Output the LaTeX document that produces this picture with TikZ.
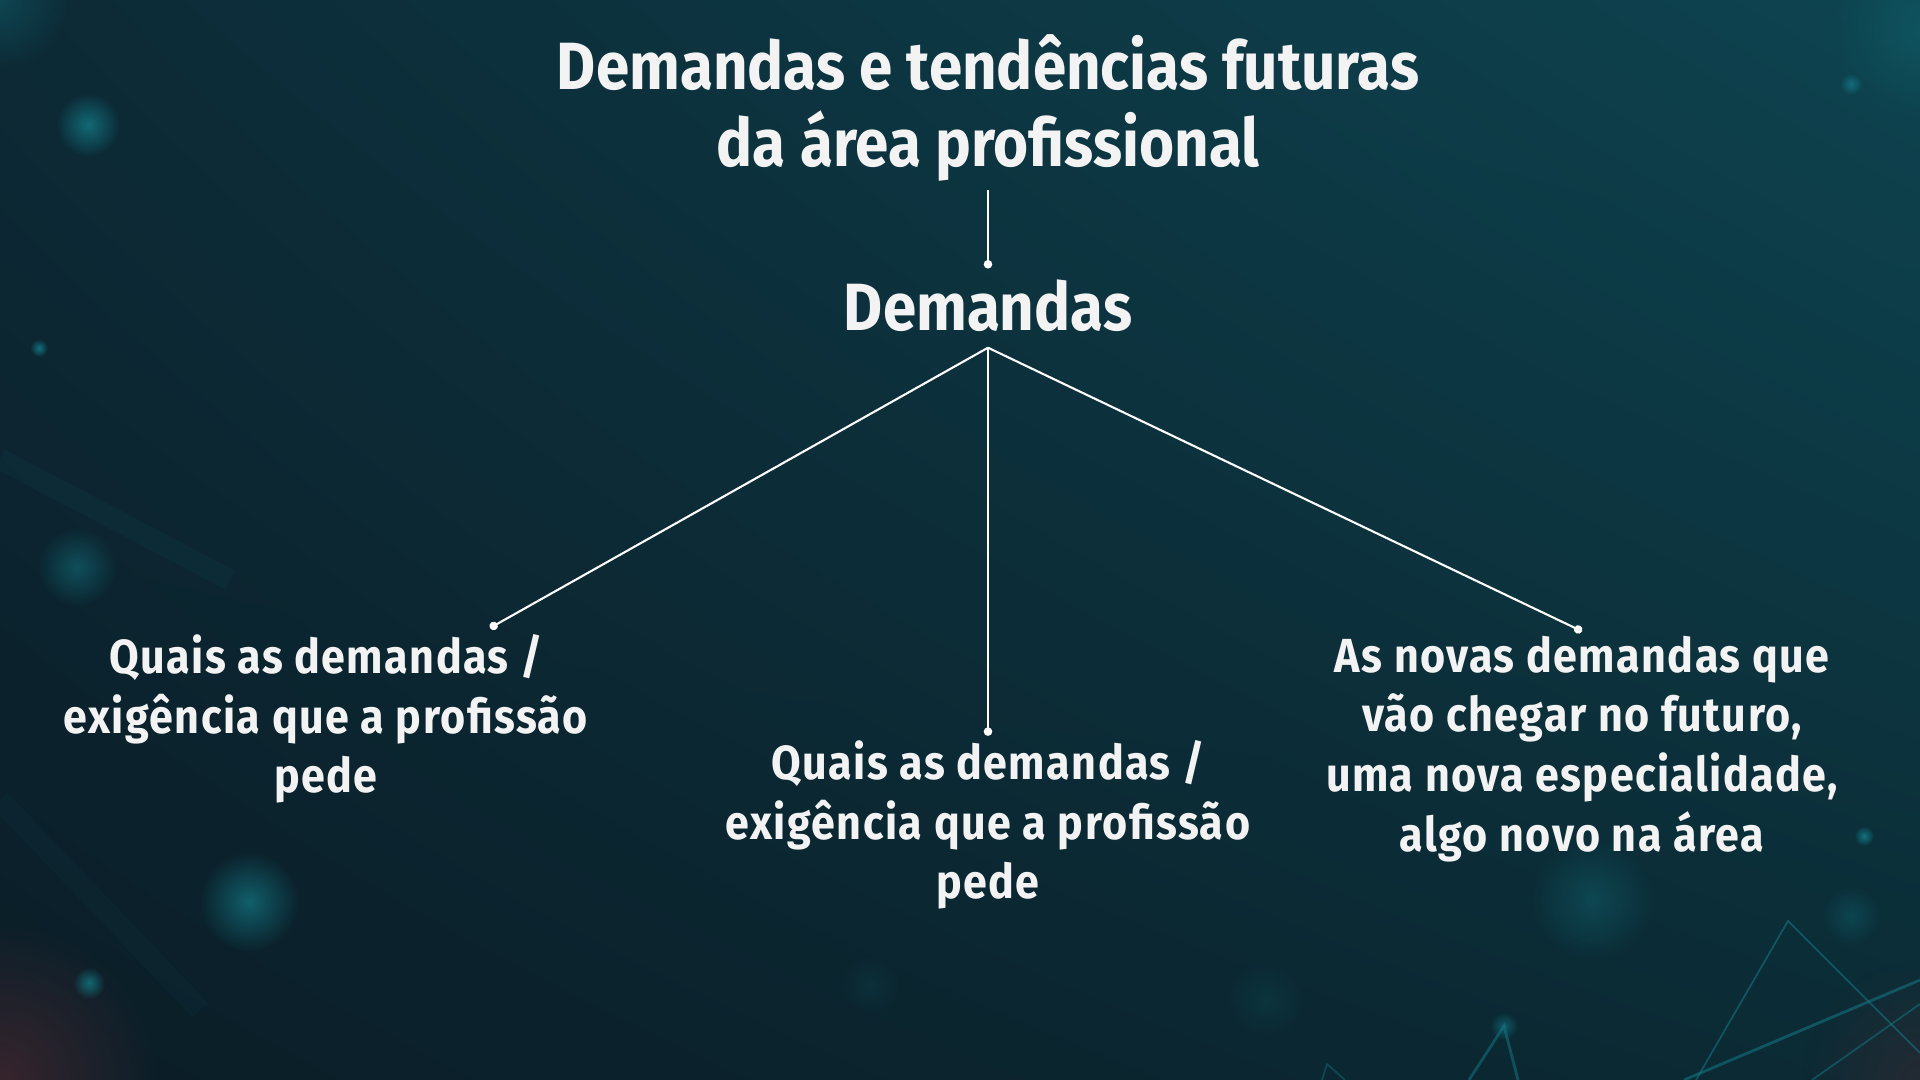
\documentclass[tikz,border=0pt]{standalone}
\usepackage{fontspec}
\setmainfont{Fira Sans}[FakeStretch=0.9]
\newfontfamily\leaffont{Fira Sans}[FakeStretch=0.9,LetterSpace=3]
\usetikzlibrary{arrows.meta,fadings,shadings}

\definecolor{bgul}{HTML}{0C2A36}
\definecolor{bgur}{HTML}{0D4450}
\definecolor{bgll}{HTML}{0B1D27}
\definecolor{bglr}{HTML}{0B2B35}
\definecolor{glow}{HTML}{137A85}
\definecolor{ember}{HTML}{4A2830}
\definecolor{txt}{HTML}{F3F3F3}

\tikzfading[name=glowfade, inner color=transparent!0, outer color=transparent!100]

\begin{document}
\begin{tikzpicture}[x=0.01cm,y=-0.01cm,
    ->,>={Circle[length=2.4pt]},line width=0.6pt,node distance=2cm,
    title node/.style={text=txt,align=center,inner sep=2pt,font=\bfseries\fontsize{19}{22}\selectfont},
    main node/.style={text=txt,align=center,inner sep=3pt,text depth=1.5pt,font=\bfseries\fontsize{19}{22}\selectfont},
    leaf node/.style={text=txt,align=center,inner sep=1pt,font=\leaffont\bfseries\fontsize{13.6}{17}\selectfont},
    glowdot/.style={fill=glow,path fading=glowfade}]

    % background
    \shade[upper left=bgul,upper right=bgur,lower left=bgll,lower right=bglr] (0,0) rectangle (1920,1080);
    \useasboundingbox (0,0) rectangle (1920,1080);
    \fill[ember,opacity=0.7,path fading=glowfade] (0,1080) circle (160);
    \fill[ember,opacity=0.4,path fading=glowfade] (1920,1080) circle (120);
    \foreach \gx/\gy/\gr/\go in {88/125/32/0.8, 39/348/9/0.9, 77/567/40/0.5, 249/902/50/0.7,
        89/983/16/0.8, 1851/84/11/0.8, 1864/836/10/0.9, 1592/900/62/0.35, 1851/916/30/0.3,
        1504/1026/14/0.6, 0/0/70/0.35, 1920/30/90/0.3, 1265/1000/40/0.15, 870/985/30/0.12}
        \fill[glowdot,opacity=\go] (\gx,\gy) circle (\gr);
    \draw[-,glow,opacity=0.55,line width=0.5pt] (1696,1080) -- (1788,921) -- (1920,1053);
    \draw[-,glow,opacity=0.55,line width=0.8pt] (1684,1080) -- (1920,980);
    \draw[-,glow,opacity=0.5,line width=0.5pt] (1812,1080) -- (1920,1004);
    \draw[-,glow,opacity=0.5,line width=0.8pt] (1469,1080) -- (1504,1026) -- (1518,1080);
    \draw[-,glow,opacity=0.4,line width=0.5pt] (1322,1080) -- (1327,1064) -- (1345,1080);
    \draw[-,glow,opacity=0.07,line width=6pt] (0,459) -- (230,580);
    \draw[-,glow,opacity=0.05,line width=6pt] (0,800) -- (200,1010);

    % nodes
    \node[title node] (1) at (988,108) {Demandas e tendências futuras\\da área profissional};
    \node[main node] (2) [below of=1] {Demandas};
    \node[leaf node] (3) at (326,719) {Quais as demandas /\\exigência que a profissão\\pede};
    \node[leaf node] (4) at (988,825) {Quais as demandas /\\exigência que a profissão\\pede};
    \node[leaf node] (5) at (1582,749) {As novas demandas que\\vão chegar no futuro,\\uma nova especialidade,\\algo novo na área};
    \coordinate (3a) at (490,628);

    \draw[white] (1) -- (2);
    \path[white]
        (2.south) edge (3a)
        (2.south) edge (4.north)
        (2.south) edge (5.north)
        ;
\end{tikzpicture}
\end{document}
